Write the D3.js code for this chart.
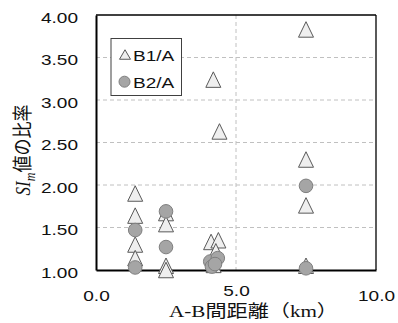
<!DOCTYPE html>
<html><head><meta charset="utf-8">
<script src="https://cdn.jsdelivr.net/npm/d3@7"></script>
<style>
html,body{margin:0;padding:0;background:#fff;}
svg{display:block;}
</style></head>
<body>
<svg id="chart" width="398" height="323"></svg>
<script>
// ---- data ----
const seriesNames = ["B1/A", "B2/A"];
const b1X = [1.4, 1.4, 1.4, 1.4, 2.5, 2.5, 2.5, 2.5, 4.19, 4.41, 4.11, 4.37, 4.28, 4.2, 7.5, 7.5, 7.5, 7.5];
const b1Y = [1.90, 1.64, 1.30, 1.14, 1.67, 1.54, 1.05, 1.00, 3.24, 2.63, 1.33, 1.35, 1.22, 1.06, 3.83, 2.30, 1.76, 1.05];
const b2X = [1.4, 1.4, 2.5, 2.5, 4.08, 4.14, 4.35, 4.25, 7.5, 7.5];
const b2Y = [1.47, 1.03, 1.69, 1.27, 1.10, 1.04, 1.14, 1.07, 1.99, 1.02];
const xTicks = [0, 5, 10];
const yTicks = [1.0, 1.5, 2.0, 2.5, 3.0, 3.5, 4.0];
const xTitle = "A-B間距離（km）";

const svg = d3.select("#chart");
const L = 96, R = 376, T = 15, B = 270;
const x = d3.scaleLinear().domain([0, 10]).range([L, R]);
const y = d3.scaleLinear().domain([1, 4]).range([B, T]);
const SX = 1.27;
const sans = "'Liberation Sans', Arial, sans-serif";

// grid
const grid = svg.append("g");
grid.selectAll("line.h").data(yTicks.filter(v => v > 1 && v < 4)).join("line")
  .attr("x1", L).attr("x2", R).attr("y1", d => y(d)).attr("y2", d => y(d))
  .attr("stroke", "#c0c0c0").attr("stroke-width", 1).attr("stroke-dasharray", "4,3");
grid.selectAll("line.v").data(xTicks.filter(v => v > 0 && v < 10)).join("line")
  .attr("x1", d => x(d)).attr("x2", d => x(d)).attr("y1", T).attr("y2", B)
  .attr("stroke", "#c0c0c0").attr("stroke-width", 1).attr("stroke-dasharray", "4,3");

// plot border top/right
svg.append("line").attr("x1", L).attr("x2", R).attr("y1", T).attr("y2", T).attr("stroke", "#000").attr("stroke-width", 1.3);
svg.append("line").attr("x1", R).attr("x2", R).attr("y1", T).attr("y2", B).attr("stroke", "#000").attr("stroke-width", 1.3);

// axes
const yAxis = svg.append("g").attr("transform", `translate(${L},0)`)
  .call(d3.axisLeft(y).tickValues(yTicks).tickFormat(d3.format(".2f")).tickSize(0));
yAxis.select(".domain").attr("stroke", "#000").attr("stroke-width", 2);
yAxis.selectAll("text").attr("x", null).attr("dy", null)
  .attr("transform", `translate(-18,7.3) scale(${SX},1)`)
  .style("font-family", sans).style("font-size", "15px").attr("fill", "#111");

const xAxis = svg.append("g").attr("transform", `translate(0,${B})`)
  .call(d3.axisBottom(x).tickValues(xTicks).tickFormat(d3.format(".1f")).tickSize(0));
xAxis.select(".domain").attr("stroke", "#000").attr("stroke-width", 2);
xAxis.selectAll("text").attr("y", null).attr("dy", null)
  .attr("transform", d => `translate(0,${d === 5 ? 25.5 : 31}) scale(${SX},1)`)
  .style("font-family", sans).style("font-size", "15px").attr("fill", "#111");

// markers
function tri(w, h) { return `M0,${-h/2}L${w/2},${h/2}L${-w/2},${h/2}Z`; }
const b1 = b1X.map((v, i) => [v, b1Y[i]]);
const b2 = b2X.map((v, i) => [v, b2Y[i]]);
svg.append("g").selectAll("path").data(b1).join("path")
  .attr("d", tri(15, 15.5))
  .attr("transform", d => `translate(${x(d[0])},${y(d[1])})`)
  .attr("fill", "#efefef").attr("stroke", "#595959").attr("stroke-width", 1);
svg.append("g").selectAll("circle").data(b2).join("circle")
  .attr("cx", d => x(d[0])).attr("cy", d => y(d[1])).attr("r", 6.8)
  .attr("fill", "#a5a5a5").attr("stroke", "#7f7f7f").attr("stroke-width", 1);

// legend
const lg = svg.append("g");
lg.append("rect").attr("x", 111).attr("y", 38.5).attr("width", 70.5).attr("height", 57)
  .attr("fill", "#fff").attr("stroke", "#404040").attr("stroke-width", 1);
lg.append("path").attr("d", tri(11, 9.5)).attr("transform", "translate(125,54.5)")
  .attr("fill", "#efefef").attr("stroke", "#595959").attr("stroke-width", 1);
lg.append("circle").attr("cx", 124.5).attr("cy", 81.7).attr("r", 5.5)
  .attr("fill", "#a5a5a5").attr("stroke", "#7f7f7f").attr("stroke-width", 1);
lg.selectAll("text").data(seriesNames).join("text")
  .attr("transform", (d, i) => `translate(133,${i === 0 ? 61 : 87.5}) scale(${SX},1)`)
  .style("font-family", sans).style("font-size", "15px").attr("fill", "#111").text(d => d);

// x title
svg.append("text").attr("x", 253.5).attr("y", 317).attr("text-anchor", "middle")
  .attr("textLength", 169).attr("lengthAdjust", "spacingAndGlyphs")
  .style("font-family", "'Liberation Serif', 'Noto Sans CJK JP', serif").style("font-size", "17px")
  .attr("fill", "#111").text(xTitle);

// y title
const yt = svg.append("text").attr("transform", "translate(30,150) scale(1.2,1) rotate(-90)")
  .attr("text-anchor", "middle")
  .style("font-family", "'Liberation Serif', 'Noto Sans CJK JP', serif").style("font-size", "17px")
  .attr("fill", "#111");
yt.append("tspan").style("font-style", "italic").text("SI");
yt.append("tspan").style("font-style", "italic").style("font-size", "12px").attr("dy", 4).text("m");
yt.append("tspan").attr("dy", -4).style("font-family", "'Noto Sans CJK JP', sans-serif").text("値の比率");
</script>
</body></html>
